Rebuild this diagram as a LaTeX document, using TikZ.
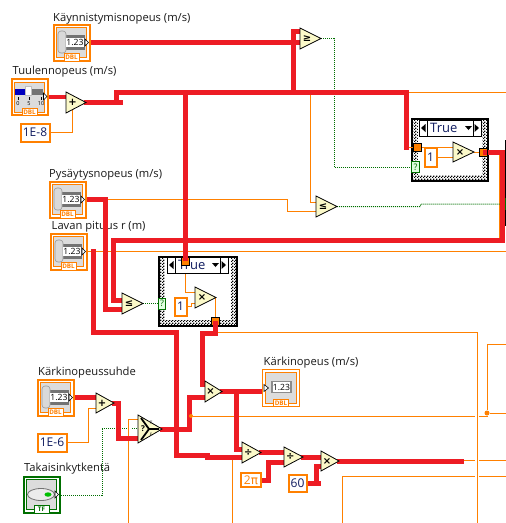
\documentclass[tikz,border=0pt]{standalone}
\usepackage{fontspec}
\setmainfont{Open Sans}
\newfontfamily\symf{DejaVu Sans}
\usetikzlibrary{patterns,calc}
\definecolor{lvred}{HTML}{ED1C24}
\definecolor{lvor}{HTML}{FF8000}
\definecolor{lvgr}{HTML}{006F00}
\definecolor{lvtri}{HTML}{FBF9C9}
\definecolor{lvgrey}{HTML}{DCDCDC}
\definecolor{lvnavy}{HTML}{101C60}
\pgfdeclarepatternformonly{finecheck}{\pgfqpoint{0pt}{0pt}}{\pgfqpoint{3pt}{3pt}}{\pgfqpoint{3pt}{3pt}}{%
  \pgfpathrectangle{\pgfqpoint{0pt}{0pt}}{\pgfqpoint{1.5pt}{1.5pt}}%
  \pgfpathrectangle{\pgfqpoint{1.5pt}{1.5pt}}{\pgfqpoint{1.5pt}{1.5pt}}%
  \pgfusepath{fill}}
\pgfdeclarelayer{back}
\pgfdeclarelayer{front}
\pgfsetlayers{back,main,front}
\tikzset{
  redw/.style={draw=lvred,line width=5pt,line cap=rect,line join=miter},
  thinw/.style={draw=lvor,line width=1pt},
  boolw/.style={draw=lvgr,line width=1pt,dash pattern=on 1pt off 1pt},
  lbl/.style={anchor=base west,inner sep=0pt,font=\fontsize{11.2}{12}\selectfont,text=black!90},
  trishape/.style={draw=black,line width=.8pt,fill=lvtri,line join=miter},
  symb/.style={inner sep=0pt,font=\symf\bfseries\fontsize{10}{10}\selectfont},
  konst/.style={draw=lvor,line width=2pt,fill=white,inner sep=0pt,text=lvnavy,font=\fontsize{12}{12}\selectfont},
  term/.style={draw=black,line width=.8pt,fill=lvor,inner sep=0pt,minimum width=8pt,minimum height=8pt},
  qbox/.style={draw=lvgr,line width=.8pt,fill=green!12,inner sep=0pt,text=lvgr,font=\fontsize{9}{9}\selectfont,minimum width=7.5pt,minimum height=11pt},
  outerbox/.style={draw=#1,line width=2pt,fill=white,inner sep=0pt,minimum width=36pt,minimum height=36pt},
  tagbox/.style={draw=#1,line width=.8pt,fill=white,inner sep=0pt,text=#1,minimum width=15pt,minimum height=7.5pt,font=\bfseries\fontsize{6.3}{6.3}\selectfont},
  valnode/.style={inner sep=0pt,font=\fontsize{8.6}{9}\selectfont,text=black},
  selbox/.style={draw=black,line width=.8pt,fill=white,inner sep=0pt,minimum width=#1,minimum height=16pt},
  seltext/.style={inner sep=0pt,anchor=west,font=\fontsize{13}{14}\selectfont,text=lvnavy},
  wdot/.style={circle,fill=lvor,inner sep=0pt,minimum size=5pt}
}
% name, x, ytop, ybot, xtip, symbol, y of input a, y of input b
\newcommand\trig[8]{%
  \path[trishape] (#2,#3) -- (#2,#4) -- (#5,{(#3+#4)/2}) -- cycle;
  \node[symb] (#1) at ({(#2+#2+#5)/3},{(#3+#4)/2}) {#6};
  \coordinate (#1-a) at (#2,#7);
  \coordinate (#1-b) at (#2,#8);
  \coordinate (#1-o) at (#5,{(#3+#4)/2});
}
% numeric control: name, x, y
\newcommand\dblctrl[3]{%
  \node[outerbox=lvor] (#1) at ({#2+18.5},{#3+18.5}) {};
  \begin{scope}[shift={(#2,#3)}]
    \path[draw=lvor,line width=.8pt,fill=lvgrey] (3.5,3.5) rectangle (33.5,33.5);
    \path[fill=black!55] (9,11) rectangle (32,26);
    \path[draw=black!40,line width=.6pt,fill=black!15,rounded corners=3pt] (5,7) rectangle (13,29);
    \path[fill=white] (13,14) rectangle (31,23);
    \path[draw=black,fill=white,line width=.6pt] (32,15) -- (32,22) -- (35.5,18.5) -- cycle;
    \node[valnode] (#1-v) at (22,18.5) {1.23};
    \node[tagbox=lvor] (#1-t) at (18.5,33.5) {DBL};
  \end{scope}
}
% name, x1, y1, x2, y2
\newcommand\caseframe[5]{%
  \path[fill=white] (#2,#3) rectangle (#4,#5);
  \path[pattern=finecheck,pattern color=black] (#2,#3) rectangle (#4,#5);
  \path[fill=white] ({#2+6},{#3}) rectangle ({#4-6},{#5-6});
  \node[draw=black,line width=1.2pt,inner sep=0pt,minimum width={#4-#2},minimum height={#5-#3}] (#1) at ({(#2+#4)/2},{(#3+#5)/2}) {};
}
% name, x, y (top-left), width
\newcommand\selector[4]{%
  \node[selbox=#4pt] (#1) at ({#2+#4/2},{#3+8}) {};
  \begin{scope}[shift={(#2,#3)}]
    \draw[line width=.8pt] (8,0) -- (8,16) ({#4-8},0) -- ({#4-8},16);
    \path[fill=black] (2,8) -- (6.5,4) -- (6.5,12) -- cycle;
    \path[fill=black] ({#4-2},8) -- ({#4-6.5},4) -- ({#4-6.5},12) -- cycle;
    \path[fill=black] ({#4-16},6) -- ({#4-9},6) -- ({#4-12.5},10) -- cycle;
    \node[seltext] (#1-t) at (11,8) {True};
  \end{scope}
}
\begin{document}
\begin{tikzpicture}[x=1pt,y=-1pt]
\useasboundingbox (0,0) rectangle (506,523);

% ---------- controls
\dblctrl{kayn}{53}{24}
\dblctrl{pysa}{49}{181}
\dblctrl{lava}{50}{233}
\dblctrl{kark}{37}{379}

% slider control
\node[outerbox=lvor] (tuul) at (29.5,97) {};
\begin{scope}[shift={(11,79)}]
  \path[draw=lvor,line width=.8pt,fill=lvgrey] (3,3) rectangle (33,33);
  \path[fill=blue!75!black] (4,10) rectangle (17,16);
  \path[fill=black!55] (17,10) rectangle (32,16);
  \path[draw=black!25,fill=white,line width=.5pt] (14,7) rectangle (20,16);
  \draw[line width=.7pt] (7,18) -- (7,21) (18,18) -- (18,21) (30,18) -- (30,21);
  \node[inner sep=0pt,font=\fontsize{5.5}{6}\selectfont] (tuul-s0) at (7,25) {0};
  \node[inner sep=0pt,font=\fontsize{5.5}{6}\selectfont] (tuul-s5) at (18,25) {5};
  \node[inner sep=0pt,font=\fontsize{5.5}{6}\selectfont] (tuul-s10) at (30,25) {10};
  \path[draw=black,fill=white,line width=.6pt] (32.5,14) -- (32.5,21) -- (36,17.5) -- cycle;
  \node[tagbox=lvor] (tuul-t) at (18.5,33) {DBL};
\end{scope}

% boolean control
\node[outerbox=lvgr] (taka) at (42,495) {};
\begin{scope}[shift={(23,476)}]
  \path[draw=lvgr,line width=.8pt,fill=lvgrey] (3.5,3.5) rectangle (33.5,33.5);
  \path[draw=black!55,fill=black!8,line width=.8pt] (18,18.5) ellipse [x radius=13.5pt,y radius=6pt];
  \path[fill=green!75!black] (25,18.5) ellipse [x radius=3.5pt,y radius=2.2pt];
  \path[draw=black,fill=white,line width=.6pt] (32,15) -- (32,22) -- (35.5,18.5) -- cycle;
  \node[tagbox=lvgr] (taka-t) at (18.5,33.5) {TF};
\end{scope}

% indicator
\node[draw=lvor,line width=1pt,fill=white,inner sep=0pt,minimum width=37pt,minimum height=37pt] (ind) at (280.5,388) {};
\begin{scope}[shift={(262,369.5)}]
  \path[draw=lvor,line width=.8pt,fill=lvgrey] (3,3) rectangle (34,34);
  \path[draw=black!45,line width=1.6pt,fill=white] (10,12) rectangle (29,23);
  \path[draw=black,fill=white,line width=.6pt] (2,15) -- (2,22) -- (6.5,18.5) -- cycle;
  \node[valnode] (ind-v) at (19.5,17.8) {1.23};
  \node[tagbox=lvor] (ind-t) at (19,33.5) {DBL};
\end{scope}

% ---------- constants
\node[konst,minimum width=29pt,minimum height=18pt] (ce8) at (35,132.5) {1E-8};
\node[konst,minimum width=29pt,minimum height=18pt] (ce6) at (52,442.5) {1E-6};
\node[konst,minimum width=12pt,minimum height=19pt] (konA) at (430.5,157) {1};
\node[konst,minimum width=12pt,minimum height=18pt] (konB) at (180.5,306.5) {1};
\node[konst,minimum width=20pt,minimum height=14pt,text=lvor] (ctwo) at (251,480) {2\symf π};
\node[konst,minimum width=18pt,minimum height=17pt] (csix) at (297.5,483) {60};

% ---------- case selectors and terminals
\selector{selA}{419}{120}{62}
\selector{selB}{167}{257}{61}
\node[term] (tA1) at (417,147) {};
\node[term] (tA2) at (483,152) {};
\node[term] (tB1) at (185,261) {};
\node[term] (tB2) at (215,321) {};
\node[qbox] (qA) at (415.5,167) {?};
\node[qbox] (qB) at (162,303.5) {?};

% ---------- primitives
\trig{cmpA}{300}{28}{49}{321}{≥}{31}{42.5}
\trig{addA}{66}{92}{113}{86}{+}{97}{108}
\trig{mulA}{453}{142}{162}{474}{×}{147}{157}
\trig{cmpB}{316}{196}{217}{337}{≤}{202}{211}
\trig{cmpC}{122}{293}{314}{143}{≤}{300}{309}
\trig{mulD}{195}{287}{308}{216}{×}{292}{303}
\trig{addB}{96}{393}{413}{114}{+}{397.5}{408}
\trig{mulB}{205}{381}{402}{222}{×}{384}{397}
\trig{divA}{242}{442}{463}{261}{÷}{449}{457}
\trig{divB}{284}{447}{467}{303}{÷}{452.5}{462}
\trig{mulC}{321}{451}{471}{339}{×}{457}{466}

% select
\path[trishape] (138,415) -- (138,443) -- (162,429) -- cycle;
\draw[line width=1.8pt] (141,418) -- (149,429) -- (141,440) (149,429) -- (159,429);
\node[inner sep=0pt,font=\bfseries\fontsize{8}{8}\selectfont] (selq) at (143,429) {?};
\node[inner sep=0pt,font=\fontsize{4.5}{5}\selectfont] (selT) at (151,423) {T};
\node[inner sep=0pt,font=\fontsize{4.5}{5}\selectfont] (selF) at (151,435) {F};
\coordinate (sel-a) at (138,428);
\coordinate (sel-b) at (138,438);
\coordinate (sel-o) at (162,429);
\coordinate (sel-c) at (138,419);

% ---------- junctions and free ends
\coordinate (jBus) at (406,92);
\coordinate (jKay) at (293,92);
\coordinate (jCase) at (185,92);
\coordinate (jAdd) at (116.5,102.5);
\coordinate (jOut) at (502,152);
\coordinate (jOut2) at (502,240);
\coordinate (jBack) at (113,240);
\coordinate (jLav) at (93,251.5);
\coordinate (jLav2) at (93,332);
\coordinate (jLav3) at (176,332);
\coordinate (jLav4) at (176,455);
\coordinate (jB1) at (215,333);
\coordinate (jB2) at (202,333);
\coordinate (jInd) at (236,391.5);
\coordinate (jSel) at (189.5,429);
\coordinate (endBus) at (506,92);
\coordinate (endLav) at (506,251.5);
\coordinate (jV) at (477,332);
\coordinate (endV) at (477,523);
\coordinate (jDot) at (487,413);

\node[wdot] (dotA) at (jDot) {};
\node[wdot,minimum size=4pt] (dotB) at (191,416) {};

\begin{pgfonlayer}{back}
  % labels lie under the wires
  \node[lbl] (l1) at (53,21) {Käynnistymisnopeus (m/s)};
  \node[lbl] (l2) at (12.5,74) {Tuulennopeus (m/s)};
  \node[lbl] (l3) at (49,177) {Pysäytysnopeus (m/s)};
  \node[lbl] (l4) at (51.5,229) {Lavan pituus r (m)};
  \node[lbl] (l5) at (38,375) {Kärkinopeussuhde};
  \node[lbl] (l6) at (263.5,365) {Kärkinopeus (m/s)};
  \node[lbl] (l7) at (24,471) {Takaisinkytkentä};

  \caseframe{caseA}{412}{119}{488}{181}
  \caseframe{caseB}{159}{257}{237}{326}

  % structure cut by the right edge
  \draw[black,line width=1pt] (505.5,140) -- (505.5,226);
  \draw[lvgr,line width=1pt] (505.5,198) -- (505.5,210);

  % thin numeric wires
  \draw[thinw] (ce8.east) -| (addA);
  \draw[thinw] (jBus) -- (endBus);
  \draw[thinw] (310,92) |- (cmpB-a);
  \draw[thinw] (pysa.east) -- (287,199.5) |- (cmpB-b);
  \draw[thinw] (lava.east) -- (endLav);
  \draw[thinw] (406,147) -- (tA1.west);
  \draw[thinw] (tA1.east) -- (mulA-a);
  \draw[thinw] (konA.east) -- (mulA-b);
  \draw[thinw] (mulA-o) -- (tA2.west);
  \draw[thinw] (499.5,152) -- (499.5,240);
  \draw[thinw] (tB1.south) |- (mulD-a);
  \draw[thinw] (konB.east) -- (191,306.5) |- (mulD-b);
  \draw[thinw] (mulD-o) -| (tB2.north);
  \draw[thinw] (jB1 |- 0,332) -- (jV) -- (endV);
  \draw[thinw] (ce6.east) -- (88,442.5) |- (addB-b);
  \draw[thinw] (128,523) |- (sel-c);
  \draw[thinw] (dotB) -- (475,416);
  \draw[thinw] (479,416) -- (487,416) -- (dotA);
  \draw[thinw] (dotA) -- (506,413);
  \draw[thinw] (dotA) |- (506,344);
  \draw[thinw] (461,460) -- (475,460);
  \draw[thinw] (479,460) -- (506,460);
  \draw[thinw] (232,458) -- (232,523);
  \draw[thinw] (342,523) |- (475,476);
  \draw[thinw] (479,476) -- (506,476);

  % boolean wires
  \draw[boolw] (cmpA-o) -- (334,38.5) |- (qA.west);
  \draw[boolw] (cmpB-o) -- (420,206.5) -- (421,204) -- (500,204);
  \draw[boolw] (cmpC-o) -- (qB.west);
  \draw[boolw] (taka.east) -- (102,495) |- (127,428);
  \draw[boolw] (132,428) -- (sel-a);

  % thick wires
  \draw[redw,line width=4pt] (tuul.east) -- (addA-a);
  \draw[redw] (kayn.east) -- (cmpA-b);
  \draw[redw] (addA-o) -- (120,102.5);
  \draw[redw] (jAdd) |- (jBus) -- (jBus |- tA1.west);
  \draw[redw] (jKay) |- (cmpA-a);
  \draw[redw] (jCase) -- (tB1.north);
  \draw[redw] (tA2.center) -- (jOut) -- (jOut2) -- (jBack) |- (cmpC-a);
  \draw[redw] (pysa.east) -- (105,199.5) |- (cmpC-b);
  \draw[redw] (jLav) -- (jLav2) -- (jLav3) -- (jLav4) -- (207,455);
  \draw[redw] (207,457) -- (divA-b);
  \draw[redw] (jB1) -- (jB2) |- (mulB-a);
  \draw[redw] (kark.east) -- (addB-a);
  \draw[redw] (addB-o) -- (118,403) |- (sel-b);
  \draw[redw] (sel-o) -- (jSel) |- (mulB-b);
  \draw[redw] (mulB-o) -- (ind.west |- mulB-o);
  \draw[redw] (jInd) |- (divA-a);
  \draw[redw] (divA-o) -- (divB-a);
  \draw[redw] (ctwo.east) -- (268,480) |- (divB-b);
  \draw[redw] (divB-o) -- (mulC-a);
  \draw[redw] (csix.east) -- (316,483) |- (mulC-b);
  \draw[redw] (csix.east) -- (318,483);
  \draw[redw] (mulC-o) -- (461,461);
\end{pgfonlayer}

\begin{pgfonlayer}{front}
  \draw[redw,line cap=butt] (tA2.center) -- (tA2.east);
  \draw[redw,line cap=butt] (tB2.center) -- (jB1);
  \draw[redw,line cap=butt] (tB1.center) -- (tB1.north);
\end{pgfonlayer}
\end{tikzpicture}
\end{document}
